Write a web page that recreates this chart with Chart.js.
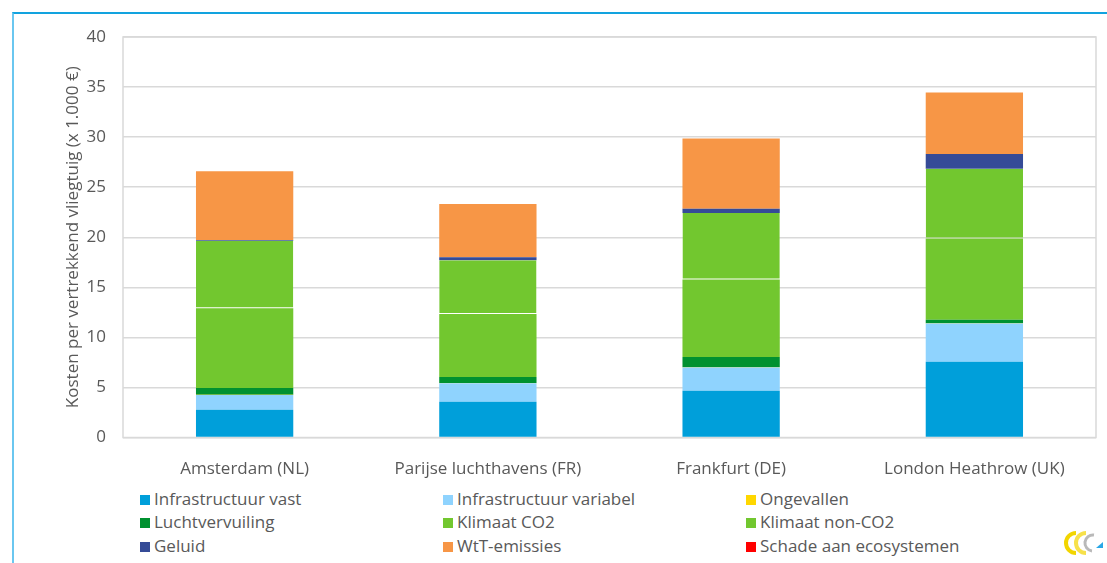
<!DOCTYPE html>
<html>
<head>
<meta charset="utf-8">
<script src="https://cdn.jsdelivr.net/npm/chart.js@4.4.1/dist/chart.umd.min.js"></script>
<style>
  html, body { margin: 0; padding: 0; background: #fff; }
  body { width: 1107px; height: 563px; position: relative; overflow: hidden; font-family: "Open Sans", sans-serif; }
  #frame { position: absolute; left: 12px; top: 12px; width: 1110px; height: 570px; border-top: 2px solid #12a3df; border-left: 2px solid #6ac7f0; }
  #wrap { position: absolute; left: 0; top: 0; width: 1107px; height: 480px; }
  .item { position: absolute; font-size: 17px; line-height: 20px; color: #595959; white-space: nowrap; }
  .item i { display: inline-block; width: 10px; height: 10px; margin-right: 4px; vertical-align: 0px; }
  #logo { position: absolute; left: 1062px; top: 530px; }
</style>
</head>
<body>
<div id="frame"></div>
<div id="wrap"><canvas id="chart"></canvas></div>
<div id="legend"></div>
<svg id="logo" width="44" height="26" viewBox="0 0 44 26">
  <path d="M14 3 A10 10 0 0 0 14 23" fill="none" stroke="#f2d500" stroke-width="4"/>
  <path d="M24 3 A10 10 0 0 0 24 23" fill="none" stroke="#f7e14a" stroke-width="4"/>
  <path d="M32 5 A8 8 0 0 0 30 21" fill="none" stroke="#b9b9b9" stroke-width="3"/>
  <path d="M34 18 L41 18 L41 12 Z" fill="#2aa7e6"/>
</svg>
<script>
const categories = ['Amsterdam (NL)', 'Parijse luchthavens (FR)', 'Frankfurt (DE)', 'London Heathrow (UK)'];
const infraVast = [2.77, 3.57, 4.66, 7.56];
const infraVariabel = [1.47, 1.86, 2.34, 3.83];
const ongevallen = [0.02, 0.01, 0.01, 0.01];
const luchtvervuiling = [0.69, 0.60, 1.02, 0.36];
const klimaatCO2 = [7.95, 6.30, 7.75, 8.11];
const klimaatNonCO2 = [6.74, 5.37, 6.63, 6.98];
const geluid = [0.08, 0.30, 0.43, 1.46];
const wttEmissies = [6.87, 5.30, 7.03, 6.15];
const schade = [0, 0, 0, 0];
const yTicks = [0, 5, 10, 15, 20, 25, 30, 35, 40];

const series = [
  { label: 'Infrastructuur vast', data: infraVast, color: '#009fda' },
  { label: 'Infrastructuur variabel', data: infraVariabel, color: '#8fd3fe' },
  { label: 'Ongevallen', data: ongevallen, color: '#ffd700' },
  { label: 'Luchtvervuiling', data: luchtvervuiling, color: '#009130' },
  { label: 'Klimaat CO2', data: klimaatCO2, color: '#72c72f' },
  { label: 'Klimaat non-CO2', data: klimaatNonCO2, color: '#72c72f', seam: true },
  { label: 'Geluid', data: geluid, color: '#354b97' },
  { label: 'WtT-emissies', data: wttEmissies, color: '#f79646' },
  { label: 'Schade aan ecosystemen', data: schade, color: '#ff0000' }
];

const grey = '#595959';
const font = { family: '"Open Sans", sans-serif', size: 17 };

// plot area box
const plotFrame = {
  id: 'plotFrame',
  beforeDatasetsDraw(chart) {
    const { ctx, chartArea: a } = chart;
    ctx.save();
    ctx.strokeStyle = '#d9d9d9';
    ctx.lineWidth = 1.5;
    ctx.strokeRect(a.left, a.top, a.right - a.left, a.bottom - a.top);
    ctx.restore();
  }
};

const chart = new Chart(document.getElementById('chart'), {
  type: 'bar',
  data: {
    labels: categories,
    datasets: series.map(s => ({
      label: s.label, data: s.data, backgroundColor: s.color,
      borderColor: 'rgba(255,255,255,0.15)',
      borderWidth: s.seam ? { bottom: 1, top: 0, left: 0, right: 0 } : 0,
      borderSkipped: false,
      categoryPercentage: 1, barPercentage: 0.4
    }))
  },
  options: {
    responsive: true, maintainAspectRatio: false, animation: false,
    layout: { padding: { top: 37, right: 11, left: 0, bottom: 0 } },
    plugins: { legend: { display: false }, tooltip: { enabled: false } },
    scales: {
      x: {
        stacked: true,
        grid: { display: false }, border: { display: false },
        ticks: { color: grey, font, padding: 13 },
        afterFit: (s) => { s.height = 42.5; }
      },
      y: {
        stacked: true, min: 0, max: 40,
        afterBuildTicks: (s) => { s.ticks = yTicks.map(v => ({ value: v })); },
        grid: { color: '#d9d9d9', lineWidth: 1.5, drawTicks: false },
        border: { display: false },
        ticks: { color: grey, font, padding: 17 },
        title: { display: true, text: 'Kosten per vertrekkend vliegtuig (x 1.000 €)', color: grey, font, padding: { top: 63, bottom: 0 } },
        afterFit: (s) => { s.width = 123; }
      }
    }
  },
  plugins: [plotFrame]
});

// legend, 3 columns x 3 rows
const colX = [140, 443, 746];
const rowY = [499, 522, 546];
const legend = document.getElementById('legend');
chart.data.datasets.forEach((ds, i) => {
  const el = document.createElement('div');
  el.className = 'item';
  el.style.left = colX[i % 3] + 'px';
  el.style.top = (rowY[Math.floor(i / 3)] - 10) + 'px';
  el.innerHTML = `<i style="background:${ds.backgroundColor}"></i>${ds.label}`;
  legend.appendChild(el);
});
</script>
</body>
</html>
